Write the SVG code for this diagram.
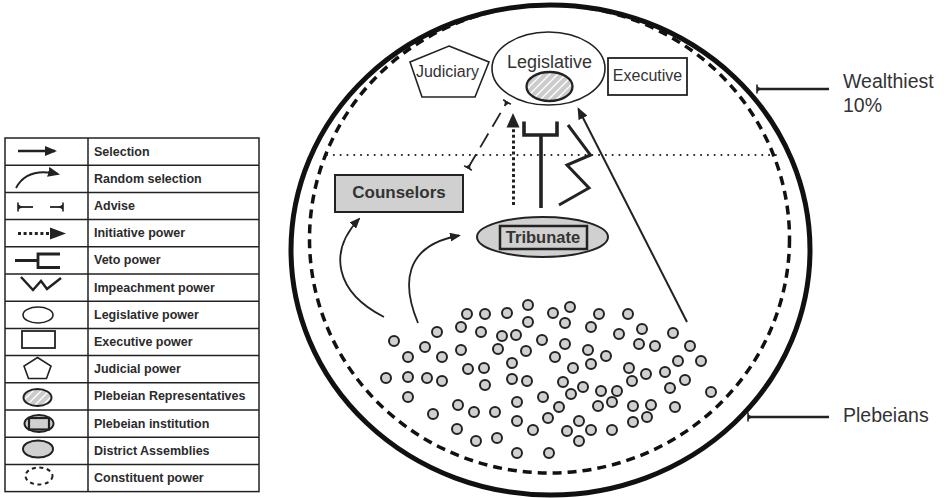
<svg xmlns="http://www.w3.org/2000/svg" width="944" height="498" viewBox="0 0 944 498">
<style>
.lt{font-family:"Liberation Sans",Arial,sans-serif;font-weight:bold;font-size:12.5px;fill:#2b2b2b}
.nt{font-family:"Liberation Sans",Arial,sans-serif;fill:#333}
.bt{font-family:"Liberation Sans",Arial,sans-serif;font-weight:bold;fill:#333}
.ln{stroke:#222;fill:none}
.dot{fill:#d0d0d0;stroke:#222;stroke-width:2}
.gray{fill:#d0d0d0;stroke:#222;stroke-width:2}
.grid{stroke:#222;stroke-width:1.5;fill:none}
</style>
<defs>
<pattern id="hatch" patternUnits="userSpaceOnUse" width="8" height="8">
<rect width="8" height="8" fill="#cbcbcb"/>
<path d="M-2,2 L2,-2 M0,8 L8,0 M6,10 L10,6" stroke="#fff" stroke-width="1.4"/>
</pattern>
<marker id="ah" viewBox="0 0 12 10" refX="10" refY="5" markerWidth="12" markerHeight="10" markerUnits="userSpaceOnUse" orient="auto">
<path d="M0,0 L12,5 L0,10 z" fill="#222"/>
</marker>
<marker id="ah2" viewBox="0 0 11 9" refX="9" refY="4.5" markerWidth="11" markerHeight="9" markerUnits="userSpaceOnUse" orient="auto">
<path d="M0,0 L11,4.5 L0,9 z" fill="#222"/>
</marker>
<marker id="tee" viewBox="0 0 8 10" refX="7" refY="5" markerWidth="8" markerHeight="10" markerUnits="userSpaceOnUse" orient="auto">
<path d="M7,2.2 L2.5,5 L7,7.8 z" fill="#222"/>
<path d="M7,0.5 L7,9.5" stroke="#222" stroke-width="1.6"/>
</marker>
<marker id="teeS" viewBox="0 0 8 10" refX="1" refY="5" markerWidth="8" markerHeight="10" markerUnits="userSpaceOnUse" orient="auto">
<path d="M1,2.2 L5.5,5 L1,7.8 z" fill="#222"/>
<path d="M1,0.5 L1,9.5" stroke="#222" stroke-width="1.6"/>
</marker>
</defs>

<!-- Legend -->
<g id="legend">
<rect class="grid" x="5" y="138" width="254" height="353.6"/>
<path class="grid" d="M88,138 V491.6 M5,165.2 H259 M5,192.4 H259 M5,219.6 H259 M5,246.8 H259 M5,274 H259 M5,301.2 H259 M5,328.4 H259 M5,355.6 H259 M5,382.8 H259 M5,410 H259 M5,437.2 H259 M5,464.4 H259"/>
<g id="lg-selection">
<line class="ln" x1="18" y1="151" x2="55" y2="151" stroke-width="2.5" marker-end="url(#ah)"/>
<text class="lt" x="94" y="155.5">Selection</text>
</g>
<g id="lg-random">
<path class="ln" d="M16,188 Q27,167 58,174" stroke-width="1.8" marker-end="url(#ah)"/>
<text class="lt" x="94" y="182.7">Random selection</text>
</g>
<g id="lg-advise">
<line class="ln" x1="18" y1="207" x2="33" y2="207" stroke-width="1.8" marker-start="url(#teeS)"/>
<line class="ln" x1="50" y1="207" x2="63" y2="207" stroke-width="1.8" marker-end="url(#tee)"/>
<text class="lt" x="94" y="209.9">Advise</text>
</g>
<g id="lg-initiative">
<line class="ln" x1="18" y1="233.5" x2="51" y2="233.5" stroke-width="3" stroke-dasharray="3 2.6"/>
<path d="M50,227.5 L66,233.5 L50,239.5 z" fill="#222"/>
<text class="lt" x="94" y="237.1">Initiative power</text>
</g>
<g id="lg-veto">
<path class="ln" d="M15,260.5 H38 M60,254 H38 V267.5 H60" stroke-width="2.8"/>
<text class="lt" x="94" y="264.3">Veto power</text>
</g>
<g id="lg-impeach">
<path class="ln" d="M21,277 L33,290 L41,281 L47,289 L61,278" stroke-width="2.5" stroke-linejoin="miter"/>
<text class="lt" x="94" y="291.5">Impeachment power</text>
</g>
<g id="lg-legislative">
<ellipse class="ln" cx="38" cy="315" rx="15" ry="8" stroke-width="1.6"/>
<text class="lt" x="94" y="318.7">Legislative power</text>
</g>
<g id="lg-executive">
<rect class="ln" x="22" y="331" width="33" height="17" stroke-width="1.8"/>
<text class="lt" x="94" y="345.9">Executive power</text>
</g>
<g id="lg-judicial">
<polygon class="ln" points="37.5,357.5 51,366 46.5,378.5 28.5,378.5 24,366" stroke-width="1.6"/>
<text class="lt" x="94" y="373.1">Judicial power</text>
</g>
<g id="lg-plebrep">
<ellipse cx="37.5" cy="397.5" rx="14" ry="8.5" fill="url(#hatch)" stroke="#222" stroke-width="2"/>
<text class="lt" x="94" y="400.3">Plebeian Representatives</text>
</g>
<g id="lg-plebinst">
<ellipse class="gray" cx="39" cy="423.5" rx="14.5" ry="8.5" stroke-width="3"/>
<rect x="29" y="418" width="20" height="11.5" fill="#d0d0d0" stroke="#222" stroke-width="2.2"/>
<text class="lt" x="94" y="427.5">Plebeian institution</text>
</g>
<g id="lg-district">
<ellipse class="gray" cx="38" cy="449" rx="15" ry="8.5"/>
<text class="lt" x="94" y="454.7">District Assemblies</text>
</g>
<g id="lg-constituent">
<ellipse class="ln" cx="39" cy="476" rx="13.5" ry="8.5" stroke-width="2" stroke-dasharray="4 3.5"/>
<text class="lt" x="94" y="481.9">Constituent power</text>
</g>
</g>

<!-- Society boundaries -->
<g id="wealthiest-boundary">
<ellipse cx="550.5" cy="250" rx="259.5" ry="245" fill="none" stroke="#111" stroke-width="5"/>
</g>
<g id="constituent-boundary">
<ellipse cx="549.5" cy="239" rx="240" ry="234" fill="none" stroke="#111" stroke-width="3.5" stroke-dasharray="9 6"/>
</g>
<g id="class-divider">
<line x1="327" y1="155" x2="781" y2="155" stroke="#222" stroke-width="2" stroke-linecap="round" stroke-dasharray="0.1 6.7"/>
</g>

<!-- Nodes -->
<g id="judiciary">
<polygon points="449,46 489,62 475,97 422,97 410,62" fill="#fff" stroke="#222" stroke-width="1.6"/>
<text class="nt" x="447.5" y="77" font-size="16" text-anchor="middle" fill="#222">Judiciary</text>
</g>
<g id="legislative">
<ellipse cx="548.5" cy="68.5" rx="56.5" ry="36.5" fill="#fff" stroke="#222" stroke-width="1.6"/>
<text class="nt" x="549.5" y="68" font-size="18" text-anchor="middle">Legislative</text>
<ellipse cx="549.5" cy="86.5" rx="23" ry="14.5" fill="url(#hatch)" stroke="#222" stroke-width="2.3"/>
</g>
<g id="executive">
<rect x="608" y="58" width="79" height="37" fill="#fff" stroke="#222" stroke-width="1.8"/>
<text class="nt" x="647.5" y="81" font-size="16" text-anchor="middle">Executive</text>
</g>
<g id="counselors">
<rect class="gray" x="335" y="175" width="128" height="37"/>
<text class="bt" x="399" y="198" font-size="17" text-anchor="middle">Counselors</text>
</g>
<g id="tribunate">
<ellipse class="gray" cx="542.5" cy="237" rx="65.5" ry="20"/>
<rect x="500" y="226" width="87" height="23" fill="#d0d0d0" stroke="#222" stroke-width="2.5"/>
<text class="bt" x="543" y="243" font-size="16.5" text-anchor="middle">Tribunate</text>
</g>
<g id="plebeians">
<circle class="dot" cx="467" cy="314" r="5"/><circle class="dot" cx="485" cy="314" r="5"/><circle class="dot" cx="507" cy="313" r="5"/><circle class="dot" cx="528" cy="305" r="5"/><circle class="dot" cx="528" cy="322" r="5"/><circle class="dot" cx="553" cy="313" r="5"/><circle class="dot" cx="570" cy="307" r="5"/><circle class="dot" cx="565" cy="323" r="5"/>
<circle class="dot" cx="437" cy="332" r="5"/><circle class="dot" cx="461" cy="327" r="5"/><circle class="dot" cx="481" cy="332" r="5"/><circle class="dot" cx="502" cy="336" r="5"/><circle class="dot" cx="516" cy="335" r="5"/><circle class="dot" cx="542" cy="340" r="5"/><circle class="dot" cx="565" cy="344" r="5"/>
<circle class="dot" cx="394" cy="341" r="5"/><circle class="dot" cx="425" cy="347" r="5"/><circle class="dot" cx="408" cy="357" r="5"/><circle class="dot" cx="442" cy="357" r="5"/><circle class="dot" cx="461" cy="350" r="5"/><circle class="dot" cx="498" cy="349" r="5"/><circle class="dot" cx="526" cy="351" r="5"/><circle class="dot" cx="555" cy="357" r="5"/>
<circle class="dot" cx="512" cy="363" r="5"/><circle class="dot" cx="468" cy="369" r="5"/><circle class="dot" cx="484" cy="368" r="5"/><circle class="dot" cx="573" cy="368" r="5"/>
<circle class="dot" cx="386" cy="378" r="5"/><circle class="dot" cx="408" cy="377" r="5"/><circle class="dot" cx="427" cy="378" r="5"/><circle class="dot" cx="442" cy="381" r="5"/><circle class="dot" cx="485" cy="385" r="5"/><circle class="dot" cx="512" cy="379" r="5"/><circle class="dot" cx="527" cy="381" r="5"/><circle class="dot" cx="563" cy="382" r="5"/>
<circle class="dot" cx="408" cy="397" r="5"/><circle class="dot" cx="543" cy="397" r="5"/><circle class="dot" cx="571" cy="394" r="5"/><circle class="dot" cx="517" cy="402" r="5"/><circle class="dot" cx="458" cy="405" r="5"/><circle class="dot" cx="559" cy="407" r="5"/>
<circle class="dot" cx="433" cy="414" r="5"/><circle class="dot" cx="474" cy="412" r="5"/><circle class="dot" cx="495" cy="412" r="5"/><circle class="dot" cx="517" cy="421" r="5"/><circle class="dot" cx="548" cy="418" r="5"/>
<circle class="dot" cx="457" cy="429" r="5"/><circle class="dot" cx="533" cy="430" r="5"/><circle class="dot" cx="567" cy="431" r="5"/><circle class="dot" cx="476" cy="441" r="5"/><circle class="dot" cx="497" cy="438" r="5"/><circle class="dot" cx="517" cy="453" r="5"/><circle class="dot" cx="549" cy="453" r="5"/>
<circle class="dot" cx="599" cy="314" r="5"/><circle class="dot" cx="628" cy="314" r="5"/><circle class="dot" cx="591" cy="327" r="5"/><circle class="dot" cx="619" cy="334" r="5"/><circle class="dot" cx="642" cy="329" r="5"/><circle class="dot" cx="673" cy="333" r="5"/>
<circle class="dot" cx="588" cy="350" r="5"/><circle class="dot" cx="606" cy="356" r="5"/><circle class="dot" cx="639" cy="344" r="5"/><circle class="dot" cx="655" cy="346" r="5"/><circle class="dot" cx="690" cy="346" r="5"/>
<circle class="dot" cx="591" cy="364" r="5"/><circle class="dot" cx="629" cy="368" r="5"/><circle class="dot" cx="646" cy="374" r="5"/><circle class="dot" cx="665" cy="372" r="5"/><circle class="dot" cx="678" cy="361" r="5"/><circle class="dot" cx="701" cy="361" r="5"/>
<circle class="dot" cx="583" cy="387" r="5"/><circle class="dot" cx="601" cy="391" r="5"/><circle class="dot" cx="617" cy="391" r="5"/><circle class="dot" cx="632" cy="381" r="5"/><circle class="dot" cx="685" cy="380" r="5"/><circle class="dot" cx="670" cy="388" r="5"/><circle class="dot" cx="711" cy="392" r="5"/>
<circle class="dot" cx="598" cy="406" r="5"/><circle class="dot" cx="612" cy="402" r="5"/><circle class="dot" cx="633" cy="406" r="5"/><circle class="dot" cx="651" cy="405" r="5"/><circle class="dot" cx="675" cy="407" r="5"/>
<circle class="dot" cx="579" cy="421" r="5"/><circle class="dot" cx="591" cy="430" r="5"/><circle class="dot" cx="612" cy="430" r="5"/><circle class="dot" cx="633" cy="422" r="5"/><circle class="dot" cx="647" cy="417" r="5"/><circle class="dot" cx="579" cy="441" r="5"/>
</g>

<!-- Connectors -->
<g id="connectors">
<path id="rs-counselors" class="ln" d="M384,317 C335,292 328,252 359,219" stroke-width="1.8" marker-end="url(#ah2)"/>
<path id="rs-tribunate" class="ln" d="M418,323 C402,285 403,246 459,235.5" stroke-width="1.8" marker-end="url(#ah2)"/>
<line id="sel-legislative" class="ln" x1="687" y1="322" x2="578.5" y2="109" stroke-width="2" marker-end="url(#ah)"/>
<line id="advise" class="ln" x1="468" y1="168" x2="507" y2="102" stroke-width="1.8" stroke-dasharray="16 8" marker-start="url(#teeS)" marker-end="url(#tee)"/>
<g id="initiative">
<line class="ln" x1="513.5" y1="205" x2="513.5" y2="127" stroke-width="3" stroke-dasharray="3 2.6"/>
<path d="M506.5,127.5 L513,113 L519.5,127.5 z" fill="#222"/>
</g>
<path id="veto" class="ln" d="M541,208 V135 M524,121.5 V135 H557 V121.5" stroke-width="3.6"/>
<path id="impeach" class="ln" d="M568,125 L590.5,155 L567,165 L589,188 L559,205" stroke-width="3"/>
<g id="pointer-wealthiest">
<line class="ln" x1="757" y1="89" x2="829" y2="89" stroke-width="2.5" marker-start="url(#teeS)"/>
</g>
<g id="pointer-plebeians">
<line class="ln" x1="748" y1="417" x2="829" y2="417" stroke-width="2.5" marker-start="url(#teeS)"/>
</g>
</g>

<g id="labels">
<text class="nt" x="843" y="88" font-size="19.5">Wealthiest</text>
<text class="nt" x="843" y="112" font-size="19.5">10%</text>
<text class="nt" x="843" y="422" font-size="19.5">Plebeians</text>
</g>
</svg>
